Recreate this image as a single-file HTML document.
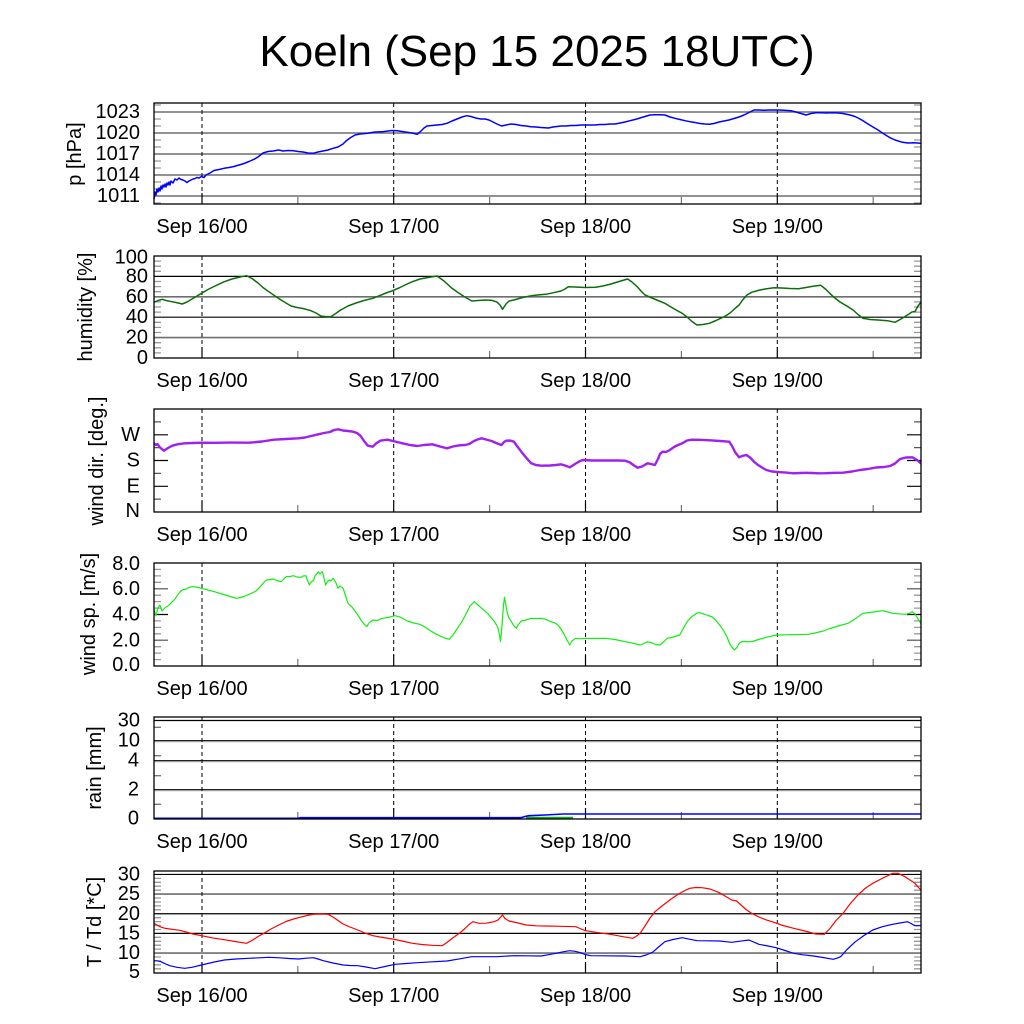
<!DOCTYPE html>
<html>
<head>
<meta charset="utf-8">
<style>
html,body{margin:0;padding:0;background:#fff;}
svg{display:block;}
text{font-family:"Liberation Sans",Arial,sans-serif;fill:#000;}
</style>
</head>
<body>
<svg width="1024" height="1024" viewBox="0 0 1024 1024" xmlns="http://www.w3.org/2000/svg">
<rect x="0" y="0" width="1024" height="1024" fill="#fff"/>

<text x="537" y="66" font-size="44" text-anchor="middle">Koeln (Sep 15 2025 18UTC)</text>

<!-- ============ Panel 1: pressure 103-204 ============ -->
<g>
  <g stroke="#6e6e6e" stroke-width="1.6" fill="none">
    <line x1="154" y1="196" x2="921" y2="196"/>
    <line x1="154" y1="175" x2="921" y2="175"/>
    <line x1="154" y1="154" x2="921" y2="154"/>
    <line x1="154" y1="133" x2="921" y2="133"/>
    <line x1="154" y1="112" x2="921" y2="112"/>
  </g>
  <path d="M154 203h7M154 189h7M154 182h7M154 168h7M154 161h7M154 147h7M154 140h7M154 126h7M154 119h7M154 105h7M921 203h-7M921 189h-7M921 182h-7M921 168h-7M921 161h-7M921 147h-7M921 140h-7M921 126h-7M921 119h-7M921 105h-7" stroke="#999" stroke-width="1.3" fill="none"/>
  <g stroke="#000" stroke-width="1" stroke-dasharray="4,3">
    <line x1="202" y1="103" x2="202" y2="194"/>
    <line x1="393.7" y1="103" x2="393.7" y2="194"/>
    <line x1="585.5" y1="103" x2="585.5" y2="194"/>
    <line x1="777.3" y1="103" x2="777.3" y2="194"/>
  </g>
  <path d="M202 204v-11M393.7 204v-11M585.5 204v-11M777.3 204v-11" stroke="#000" stroke-width="1.2"/>
  <path d="M297.8 204v-7M489.6 204v-7M681.4 204v-7M873.2 204v-7" stroke="#777" stroke-width="1.2"/>
  <polyline fill="none" stroke="#0000ff" stroke-width="1.5" stroke-linejoin="round" points="154,199 155,192 156,195 157,189 158,192 159,188 160,191 161,186 162,189 163,185 164,187 165,184 166,187 167,183 168,185 169,182 170,185 171,181 173,183 175,179 177,180 179,178 181,179.5 183,180 185,181 187,182.5 189,181 191,180 193,179 195,178.5 197,177.5 199,178 201.5,176.5 204,177.5 206,175 210,173 214,170.5 219,169.5 224,168.3 229,167.5 234,166.5 239,165 244,163.5 249,161.5 254,159.3 258,157 263,153 268,151.5 273,151 278.7,150 283,151 288,150.5 293.6,150.7 298,151.5 303,152 308,153 313,153.3 318,152 323,151 328,150 333,148.3 338,147 343,144 346,141 350,138 355,135 360,134 367.8,133.3 375,132 382.7,131.7 388,131 392,130.5 397.5,130.7 402,131.5 407,132.3 412,133 417.3,134.3 420,132 424,128 427,126 432,125.5 437,125 442,124.5 447,123.3 452,121 457,119 462,117 466.8,115.7 471,116.5 476.7,118.3 481,119 485,119 489,120 493,122 497,124 501.5,126 506,125 511,124 516,124.5 521,125.5 526,126 531,126.7 536,127 541,127.5 548.5,128 553,127 557,126.5 561,126 566,126 571,125.5 576,125.5 581,125 585.6,125 590,125 595,125 600,124.5 605,124.5 610,124 615.3,124 620,123 625,122 630,120.7 635,119.5 640,118 645,116.5 650,115 655,114.7 660,114.7 665,115 670,117 675,118.3 680,119.5 685,120.7 690,121.7 695,122.5 700,123.5 705,124 709.4,124.3 714,123.5 719,122 724,121 729,120 734,118.5 739,117 744,115 749,112.5 754,110 759,110 764,110.3 769,110 774,110 779,110 784,110.3 791,110.7 796,112 801,113.5 806,115 811,113.5 816,112.7 821,112.7 826,113 833,112.7 838,113 843,113.5 850,115 855,116.5 859,118.5 863,120.7 868,124 873,127 878,130 884,134 890,137.7 895,140 902.5,142.3 908,143 914,142.8 921,143.3"/>
  <rect x="154" y="103" width="767" height="101" fill="none" stroke="#000" stroke-width="1.3"/>
  <g font-size="20" text-anchor="end" dominant-baseline="central">
    <text x="140" y="112">1023</text>
    <text x="140" y="133">1020</text>
    <text x="140" y="154">1017</text>
    <text x="140" y="175">1014</text>
    <text x="140" y="196">1011</text>
  </g>
  <text transform="translate(81,154) rotate(-90)" font-size="20" text-anchor="middle">p [hPa]</text>
  <g font-size="20" text-anchor="middle">
    <text x="202" y="233">Sep 16/00</text>
    <text x="393.7" y="233">Sep 17/00</text>
    <text x="585.5" y="233">Sep 18/00</text>
    <text x="777.3" y="233">Sep 19/00</text>
  </g>
</g>

<!-- ============ Panel 2: humidity 256-358 ============ -->
<g>
  <g fill="none">
    <line x1="154" y1="337.6" x2="921" y2="337.6" stroke="#6e6e6e" stroke-width="1.6"/>
    <line x1="154" y1="317.2" x2="921" y2="317.2" stroke="#000" stroke-width="1.2"/>
    <line x1="154" y1="296.8" x2="921" y2="296.8" stroke="#6e6e6e" stroke-width="1.6"/>
    <line x1="154" y1="276.4" x2="921" y2="276.4" stroke="#000" stroke-width="1.2"/>
  </g>
  <path d="M154 352.9h7M154 347.8h7M154 342.7h7M154 332.5h7M154 327.4h7M154 322.3h7M154 312.1h7M154 307h7M154 301.9h7M154 291.7h7M154 286.6h7M154 281.5h7M154 271.3h7M154 266.2h7M154 261.1h7M921 352.9h-7M921 347.8h-7M921 342.7h-7M921 332.5h-7M921 327.4h-7M921 322.3h-7M921 312.1h-7M921 307h-7M921 301.9h-7M921 291.7h-7M921 286.6h-7M921 281.5h-7M921 271.3h-7M921 266.2h-7M921 261.1h-7" stroke="#999" stroke-width="1.3" fill="none"/>
  <g stroke="#000" stroke-width="1" stroke-dasharray="4,3">
    <line x1="202" y1="256" x2="202" y2="348"/>
    <line x1="393.7" y1="256" x2="393.7" y2="348"/>
    <line x1="585.5" y1="256" x2="585.5" y2="348"/>
    <line x1="777.3" y1="256" x2="777.3" y2="348"/>
  </g>
  <path d="M202 358v-11M393.7 358v-11M585.5 358v-11M777.3 358v-11" stroke="#000" stroke-width="1.2"/>
  <path d="M297.8 358v-7M489.6 358v-7M681.4 358v-7M873.2 358v-7" stroke="#777" stroke-width="1.2"/>
  <polyline fill="none" stroke="#0b6e0b" stroke-width="1.5" stroke-linejoin="round" points="154,302.3 158,300.5 162.4,299.3 166,300.5 169.8,301.3 176,302.5 182.2,304 187,302 192,299 197,296 201.5,293.3 208,289.5 215,286 224.3,281.7 232,279 240,277 246.5,275.7 252,278.5 258,283 263,287.5 268.8,291.7 275,296 281,300 286,303 291.1,306 297,307.5 303,308.5 310.9,310.7 316,313 320.8,316 325,316.5 330.7,316.7 335,314 340.6,310 348,306 356,303 364,300.5 372.8,298.3 380,295.5 386,293 392.6,290.7 400,287.5 406,284.5 412.4,281.7 420,279 428,277.5 437.1,276 444,281 452,288.3 458,292.5 464,296.5 471.8,301 478,300.5 485,300 491.6,300.3 497,302 500,305 502.5,309.3 506,304 509,301 513.9,300 519,298.5 526.2,296.7 533,295.5 540,294.8 546,294.3 553,292.8 560.9,291 565,289 568.3,286.7 575,287 585,287.5 595.5,287.3 603,286 611,284 619,281.5 627.7,279 632,282 637,286.5 641,291 645,295 652,298 658,300.5 664.9,303.3 671,307 677,310.5 682.2,313.3 687,317 692,321.5 697,325 703,324.5 709.4,323.3 716,320.5 724.3,316.7 730,313 735,308.5 739.1,305 743,299.5 747,295 751.5,292.3 758,290.5 765,289 773.8,287.7 782,288 790,288.5 798.5,288.7 806,287.5 813,286.3 820.8,285.3 826,289.5 833.2,296.7 840,302 848,306.7 853,310 858,314.5 862.9,318.3 870,319.5 878,320 887.6,320.7 895,322.3 901,319 907.4,315 912,312 915,311.5 918,306 921,302"/>
  <rect x="154" y="256" width="767" height="102" fill="none" stroke="#000" stroke-width="1.3"/>
  <g font-size="20" text-anchor="end" dominant-baseline="central">
    <text x="148" y="257.5">100</text>
    <text x="148" y="276.4">80</text>
    <text x="148" y="296.8">60</text>
    <text x="148" y="317.2">40</text>
    <text x="148" y="337.6">20</text>
    <text x="148" y="358">0</text>
  </g>
  <text transform="translate(92,307) rotate(-90)" font-size="20" text-anchor="middle">humidity [%]</text>
  <g font-size="20" text-anchor="middle">
    <text x="202" y="387">Sep 16/00</text>
    <text x="393.7" y="387">Sep 17/00</text>
    <text x="585.5" y="387">Sep 18/00</text>
    <text x="777.3" y="387">Sep 19/00</text>
  </g>
</g>

<!-- ============ Panel 3: wind dir 409-512 ============ -->
<g>
  <path d="M154 486.3h14M154 460.5h14M154 434.8h14M921 486.3h-14M921 460.5h-14M921 434.8h-14" stroke="#000" stroke-width="1.2" fill="none"/>
  <path d="M154 499.1h7M154 473.4h7M154 447.6h7M154 421.9h7M921 499.1h-7M921 473.4h-7M921 447.6h-7M921 421.9h-7" stroke="#555" stroke-width="1.2" fill="none"/>
  <g stroke="#000" stroke-width="1" stroke-dasharray="4,3">
    <line x1="202" y1="409" x2="202" y2="502"/>
    <line x1="393.7" y1="409" x2="393.7" y2="502"/>
    <line x1="585.5" y1="409" x2="585.5" y2="502"/>
    <line x1="777.3" y1="409" x2="777.3" y2="502"/>
  </g>
  <path d="M202 512v-11M393.7 512v-11M585.5 512v-11M777.3 512v-11" stroke="#000" stroke-width="1.2"/>
  <path d="M297.8 512v-7M489.6 512v-7M681.4 512v-7M873.2 512v-7" stroke="#777" stroke-width="1.2"/>
  <polyline fill="none" stroke="#a020f0" stroke-width="2.4" stroke-linejoin="round" points="154,443.3 156,445 157.4,444 160,447.5 163.9,450.7 168,448 172.3,445.7 178,444.2 184.7,443.3 193,443 201.5,442.7 215,442.8 230,442.6 249,442.7 262,441.5 273.8,439.7 286,439 298.5,438.3 305,437.5 311,436 318.3,434.3 324,433 330,432 334,430 338.1,429.3 343,430.5 348,431 353,431.7 357,433 360.4,435.7 364,441 367.8,445.7 372.8,446.7 376,443.5 380.2,440.7 387.6,439.7 395,441.5 402.5,443.3 410,445 417.3,446 424,445 432.2,444.3 440,446.5 447,448.3 453,446.5 459.4,445.3 465,445 469.3,444 474,441 478,439.3 481.7,438.3 486,439.5 491.6,441 496,443 501.5,445 504,442 506.4,440.7 510,440.5 513.9,441.7 517,446 521.3,451.7 526,457.5 531.2,463.3 536,465 541.1,465.7 550,465.5 556,465 560.9,464.3 565,465.5 569.8,467.3 575,464 580,461 583.2,460 592,460.5 600,460.5 610,460.5 618,460.5 625.2,460.7 630,462.5 634,465.5 637.6,467.7 642,466.5 647.5,463.3 651,464 654.9,465 658,459 660,454 662.4,451.7 666,452 669.8,450 674,447 678,445 682.2,443.3 687,440.5 692.1,439.7 700,439.8 710,440.3 720,441 729.2,441.7 732,446 735,452 739.1,457.3 742,456 746.5,455 750,457.5 754,461.7 758,465 762,467.5 766.3,470 772,471.5 780,472.2 786,472.6 793.6,473.3 800,473 806,472.8 812,473 818.3,473.3 825,473.2 835,472.8 843.1,472.7 852,471.5 860,470 867.8,469 876,467.5 884,467 890.1,466 895,463.5 900,459 906,457.5 912.4,457.3 917,460 921,463.5"/>
  <rect x="154" y="409" width="767" height="103" fill="none" stroke="#000" stroke-width="1.3"/>
  <g font-size="20" text-anchor="end" dominant-baseline="central">
    <text x="140" y="434.8">W</text>
    <text x="140" y="460.5">S</text>
    <text x="140" y="486.3">E</text>
    <text x="140" y="511">N</text>
  </g>
  <text transform="translate(103,461) rotate(-90)" font-size="20" text-anchor="middle">wind dir. [deg.]</text>
  <g font-size="20" text-anchor="middle">
    <text x="202" y="541">Sep 16/00</text>
    <text x="393.7" y="541">Sep 17/00</text>
    <text x="585.5" y="541">Sep 18/00</text>
    <text x="777.3" y="541">Sep 19/00</text>
  </g>
</g>

<!-- ============ Panel 4: wind speed 563-666 ============ -->
<g>
  <path d="M154 640.25h14M154 588.75h14M921 640.25h-14M921 588.75h-14" stroke="#777" stroke-width="1.6" fill="none"/>
  <path d="M154 614.5h14M921 614.5h-14" stroke="#000" stroke-width="1.3" fill="none"/>
  <path d="M154 659.6h7M154 653.1h7M154 646.7h7M154 633.8h7M154 627.4h7M154 620.9h7M154 608.1h7M154 601.6h7M154 595.2h7M154 582.3h7M154 575.9h7M154 569.4h7M921 659.6h-7M921 653.1h-7M921 646.7h-7M921 633.8h-7M921 627.4h-7M921 620.9h-7M921 608.1h-7M921 601.6h-7M921 595.2h-7M921 582.3h-7M921 575.9h-7M921 569.4h-7" stroke="#999" stroke-width="1.3" fill="none"/>
  <g stroke="#000" stroke-width="1" stroke-dasharray="4,3">
    <line x1="202" y1="563" x2="202" y2="656"/>
    <line x1="393.7" y1="563" x2="393.7" y2="656"/>
    <line x1="585.5" y1="563" x2="585.5" y2="656"/>
    <line x1="777.3" y1="563" x2="777.3" y2="656"/>
  </g>
  <path d="M202 666v-11M393.7 666v-11M585.5 666v-11M777.3 666v-11" stroke="#000" stroke-width="1.2"/>
  <path d="M297.8 666v-7M489.6 666v-7M681.4 666v-7M873.2 666v-7" stroke="#777" stroke-width="1.2"/>
  <polyline fill="none" stroke="#11ee11" stroke-width="1.2" stroke-linejoin="round" points="154,610 155,613 156,615.7 158,608 159.9,605 161,608 162,611 163.9,609 166,607 168,606 169.8,604.3 172,602 175,599 177.2,595.7 180,592 182.2,590 186,589 189,587.5 192.1,586.7 196,587 201.5,588.3 208,590 214.4,591.7 222,594 230,596.5 236.6,598.3 244,596.5 251.5,593.3 256,591 258.9,588.3 262,584.5 266.3,580 270,579.5 273.8,579 277,580.5 281.2,581.7 284,579 286.1,576.7 290,576.5 293.6,575.7 297,577 301,577.3 303,576 305.9,575.7 307,579 309.4,585 311,582 313.4,580.7 315,576 318.3,571.7 320,574 322.3,571.7 324,578 325.7,585 327,582 329.2,580 331,581 333.2,578.3 336,583 338.1,588.3 340,586 343.1,588.3 345,594 348,603.3 352,607 355,611 357.9,615 361,620 364,624 366.8,626.7 369,623 372.8,620 377,620.5 382.7,618.3 388,617.5 395,615.7 400,617 407.4,621 414,623 419.8,624.3 425,627 430,630.5 434.7,633.3 440,636 445,638 449.5,639.3 453,635 457,629 461.9,621.7 466,614 470,606 474.3,601.7 478,605 481.7,608.3 485,611 488,614 491.6,618.3 494,621 496.5,625 498,628 499.5,635 500.5,641.7 501.5,632 502.5,618.3 503.5,605 504.5,597.3 505.5,603 507.4,613.3 509,618 511.4,621.7 514,626 516.3,628.3 518,625 521.3,621 526,620 531.2,618.3 536,618.5 541.1,618.3 546,619.5 551,621.7 555,623 558,625 560.9,629 564,634 567,640 569.8,645 572,641 575.7,638.3 580,638.8 585.6,638.3 595,638.5 605.4,638.3 615,639.5 625.2,641.7 632,643 640.1,645 644,643.5 647.5,641.7 652,643 656,644.5 659.9,645 664,641.5 667.3,638.3 673,637 679.7,635 683,629 687.1,621.7 692,616.5 697,613 699.5,612.7 704,614 708,615.5 711.9,616.7 716,620.5 720,625.5 724.3,631.7 727,637 730,644.5 734.2,650 737,647.5 739,643.5 741.6,641.7 746,641.5 750,641.8 754,641 760,639 768.8,636.7 774,635.5 778.7,635 788,634.8 798,634.5 808.4,634.3 815,633 823.3,631 830,628.5 838,626 848,623.3 855,619 862.9,613.3 870,612.5 877,611.5 882.7,610.7 888,612 892.6,613.3 898,613.8 904.9,614.3 909,613.5 912.4,611.7 915,614 918,619 921,624"/>
  <rect x="154" y="563" width="767" height="103" fill="none" stroke="#000" stroke-width="1.3"/>
  <g font-size="20" text-anchor="end" dominant-baseline="central">
    <text x="140" y="564">8.0</text>
    <text x="140" y="588.75">6.0</text>
    <text x="140" y="614.5">4.0</text>
    <text x="140" y="640.25">2.0</text>
    <text x="140" y="665">0.0</text>
  </g>
  <text transform="translate(95,614) rotate(-90)" font-size="20" text-anchor="middle">wind sp. [m/s]</text>
  <g font-size="20" text-anchor="middle">
    <text x="202" y="695">Sep 16/00</text>
    <text x="393.7" y="695">Sep 17/00</text>
    <text x="585.5" y="695">Sep 18/00</text>
    <text x="777.3" y="695">Sep 19/00</text>
  </g>
</g>

<!-- ============ Panel 5: rain 717-819 ============ -->
<g>
  <g stroke="#000" stroke-width="1.2" fill="none">
    <line x1="154" y1="720.5" x2="921" y2="720.5"/>
    <line x1="154" y1="740.7" x2="921" y2="740.7"/>
    <line x1="154" y1="760.7" x2="921" y2="760.7"/>
    <line x1="154" y1="789.7" x2="921" y2="789.7"/>
  </g>
  <line x1="154" y1="741.8" x2="921" y2="741.8" stroke="#aaa" stroke-width="1"/>
  <line x1="154" y1="761.8" x2="921" y2="761.8" stroke="#aaa" stroke-width="1"/>
  <line x1="154" y1="790.8" x2="921" y2="790.8" stroke="#aaa" stroke-width="1"/>
  <path d="M154 727.3h7M154 755.7h7M154 775.7h7M154 804.3h7M921 727.3h-7M921 755.7h-7M921 775.7h-7M921 804.3h-7" stroke="#777" stroke-width="1.3" fill="none"/>
  <g stroke="#000" stroke-width="1" stroke-dasharray="4,3">
    <line x1="202" y1="717" x2="202" y2="809"/>
    <line x1="393.7" y1="717" x2="393.7" y2="809"/>
    <line x1="585.5" y1="717" x2="585.5" y2="809"/>
    <line x1="777.3" y1="717" x2="777.3" y2="809"/>
  </g>
  <path d="M202 819v-11M393.7 819v-11M585.5 819v-11M777.3 819v-11" stroke="#000" stroke-width="1.2"/>
  <path d="M297.8 819v-7M489.6 819v-7M681.4 819v-7M873.2 819v-7" stroke="#777" stroke-width="1.2"/>
  <polyline fill="none" stroke="#119911" stroke-width="1.5" points="305,818.3 335,818.3"/>
  <polyline fill="none" stroke="#11aa11" stroke-width="2" points="526,817.8 573,817.8"/>
  <polyline fill="none" stroke="#0000ff" stroke-width="1.6" stroke-linejoin="round" points="154,818.3 298.5,818.3 300,817.7 521,817.7 525,816.5 528.7,815.7 545,815 563.4,814 921,814"/>
  <rect x="154" y="717" width="767" height="102" fill="none" stroke="#000" stroke-width="1.3"/>
  <g font-size="20" text-anchor="end" dominant-baseline="central">
    <text x="140" y="720.5">30</text>
    <text x="140" y="740.7">10</text>
    <text x="139" y="760.7">4</text>
    <text x="139" y="789.7">2</text>
    <text x="139" y="818.5">0</text>
  </g>
  <text transform="translate(101,768) rotate(-90)" font-size="20" text-anchor="middle">rain [mm]</text>
  <g font-size="20" text-anchor="middle">
    <text x="202" y="848">Sep 16/00</text>
    <text x="393.7" y="848">Sep 17/00</text>
    <text x="585.5" y="848">Sep 18/00</text>
    <text x="777.3" y="848">Sep 19/00</text>
  </g>
</g>

<!-- ============ Panel 6: T/Td 871-973 ============ -->
<g>
  <g fill="none">
    <line x1="154" y1="874.45" x2="921" y2="874.45" stroke="#000" stroke-width="1.2"/>
    <line x1="154" y1="894.1" x2="921" y2="894.1" stroke="#6e6e6e" stroke-width="1.6"/>
    <line x1="154" y1="913.75" x2="921" y2="913.75" stroke="#000" stroke-width="1.2"/>
    <line x1="154" y1="933.4" x2="921" y2="933.4" stroke="#000" stroke-width="1.2"/>
    <line x1="154" y1="953.05" x2="921" y2="953.05" stroke="#6e6e6e" stroke-width="1.6"/>
  </g>
  <path d="M154 968.8h7M154 964.8h7M154 960.9h7M154 957h7M154 949.1h7M154 945.2h7M154 941.3h7M154 937.3h7M154 929.5h7M154 925.5h7M154 921.6h7M154 917.7h7M154 909.8h7M154 905.9h7M154 902h7M154 898h7M154 890.2h7M154 886.2h7M154 882.3h7M154 878.4h7M921 968.8h-7M921 964.8h-7M921 960.9h-7M921 957h-7M921 949.1h-7M921 945.2h-7M921 941.3h-7M921 937.3h-7M921 929.5h-7M921 925.5h-7M921 921.6h-7M921 917.7h-7M921 909.8h-7M921 905.9h-7M921 902h-7M921 898h-7M921 890.2h-7M921 886.2h-7M921 882.3h-7M921 878.4h-7" stroke="#999" stroke-width="1.3" fill="none"/>
  <g stroke="#000" stroke-width="1" stroke-dasharray="4,3">
    <line x1="202" y1="871" x2="202" y2="963"/>
    <line x1="393.7" y1="871" x2="393.7" y2="963"/>
    <line x1="585.5" y1="871" x2="585.5" y2="963"/>
    <line x1="777.3" y1="871" x2="777.3" y2="963"/>
  </g>
  <path d="M202 973v-11M393.7 973v-11M585.5 973v-11M777.3 973v-11" stroke="#000" stroke-width="1.2"/>
  <path d="M297.8 973v-7M489.6 973v-7M681.4 973v-7M873.2 973v-7" stroke="#777" stroke-width="1.2"/>
  <polyline fill="none" stroke="#ff0000" stroke-width="1.2" stroke-linejoin="round" points="154,923.3 157,925 159.9,926.7 165,928.3 169.8,929 175,929.7 179.7,930.3 186,932 193,934 201.5,935.7 212,937.8 224.3,939.7 235,941.5 246.5,943.3 252,940.5 258,936.5 263.9,933.3 271,929 278.7,925 286,921.5 293.6,919 300,917.3 307,915.5 313.4,914.3 320,914 328.2,914.3 333,917 338,920.5 343.1,924 350,927 357.9,930 365,933 372.8,935.7 380,937 386,938 392.6,939 402,941 412.4,943.3 422,944.5 432,945.3 442.1,945.7 447,942.5 452,938.5 459.4,933.3 465,928.5 469,924.5 472.8,921.7 479.2,923.3 486,923.2 494.1,921.7 498,920 502.5,915 505,918.5 508.9,921 516,922.5 526.2,925 536,925.8 546,926 560,926.3 575.7,926.7 580,928.5 585.6,930.7 597,932.5 610.4,934.3 621,936.3 632.7,938.3 636,936.5 640.1,933.3 645,926 650,918 655,911.7 662,906 669.8,900 677,895 683,891.5 689.6,888.3 696,887.5 702,887.7 710,889 719.3,892.7 725,896 731.7,900 736.6,901 741,905 746,909.5 751.5,913.3 760,917.5 766,919.8 773.8,922.3 783,925.5 793.6,928.3 805,931 815.8,934 824.3,934.3 830,928.5 836,920.5 843.1,913.3 850,904 857.9,895 865,888.5 872.8,883.3 882,878.5 892.6,873.3 898,873.3 905,876.7 910,880 914.9,883.3 918,887 921,890"/>
  <polyline fill="none" stroke="#0000ff" stroke-width="1.2" stroke-linejoin="round" points="154,960.7 157,960.8 160.9,961.7 165,963.7 169.8,965.7 177,967.3 184.7,968.3 192,967.3 201.5,965 212,962.5 224.3,960 236,959 249,958.3 259,957.8 268.8,957.3 280,957.8 289,958.5 298.5,959 306,958.2 313.4,957.7 318,959 323.3,960.7 333,963 343.1,965 350,965.5 357.9,965.7 366,967 375.2,968.7 385,966.5 395,964.3 406,963.5 417.3,962.7 432,961.8 447,961 460,958.8 471.8,956.7 484,956.7 496.5,956.7 505,956.2 513.9,955.7 527,955.8 541.1,956 548,954.8 555.9,953.3 563,951.8 569.8,950.7 575,951.3 580.7,952.7 585,954.5 590.6,955.7 605,955.8 625.2,956 632,956.3 640.1,956.7 646,955 652.5,952.3 658,947.5 664.9,941.7 673,939.5 682.2,937.7 690,939.3 697,940.7 708,940.8 719.3,941 726,941.7 731.7,942.3 740,941.2 749,940 754,942.2 758.9,944.3 768,946 776.2,947.7 785,950.5 793.6,953.3 803,954.8 813.4,956 823,957.5 833.2,959.3 837,958.2 840.6,956.7 847,949.5 855.4,941.7 864,935.5 872.8,930 882,926.8 892.6,924.3 900,923 907.4,921.7 911,923.5 914.9,925.7 921,925.7"/>
  <rect x="154" y="871" width="767" height="102" fill="none" stroke="#000" stroke-width="1.3"/>
  <g font-size="20" text-anchor="end" dominant-baseline="central">
    <text x="140" y="874.45">30</text>
    <text x="140" y="894.1">25</text>
    <text x="140" y="913.75">20</text>
    <text x="140" y="933.4">15</text>
    <text x="140" y="953.05">10</text>
    <text x="140" y="972">5</text>
  </g>
  <text transform="translate(101,922) rotate(-90)" font-size="20" text-anchor="middle">T / Td [*C]</text>
  <g font-size="20" text-anchor="middle">
    <text x="202" y="1002">Sep 16/00</text>
    <text x="393.7" y="1002">Sep 17/00</text>
    <text x="585.5" y="1002">Sep 18/00</text>
    <text x="777.3" y="1002">Sep 19/00</text>
  </g>
</g>
</svg>
</body>
</html>
